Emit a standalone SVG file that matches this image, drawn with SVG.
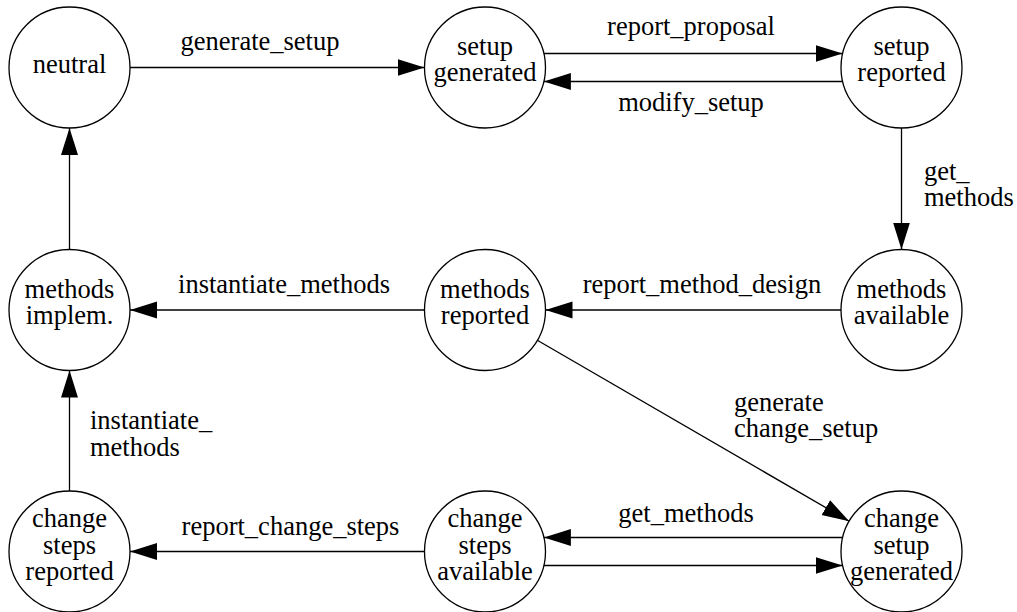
<svg xmlns="http://www.w3.org/2000/svg" width="1017" height="612" viewBox="0 0 1017 612" font-family="'Liberation Serif', Tinos, 'Times New Roman', Times, 'DejaVu Serif', serif">
<style>
.node circle{fill:#fff;stroke:#000;stroke-width:1.3}
text{font-family:'Liberation Serif', Tinos, 'Times New Roman', Times, 'DejaVu Serif', serif;font-size:26.5px;fill:#000}
.n text{text-anchor:middle}
.c{text-anchor:middle}
#edges line{stroke:#000;stroke-width:1.3;marker-end:url(#ah)}
</style>
<defs>
<marker id="ah" markerUnits="userSpaceOnUse" markerWidth="28" markerHeight="18" refX="27" refY="8.5" orient="auto" viewBox="0 0 28 17">
<path d="M0,0 L27,8.5 L0,17 z" fill="#000"/>
</marker>
</defs>
<rect width="1017" height="612" fill="#fff"/>
<g id="edges">
<line x1="130" y1="67.5" x2="424.5" y2="67.5"/>
<line x1="543.9" y1="53.5" x2="842.6" y2="53.5"/>
<line x1="842.6" y1="81.5" x2="543.9" y2="81.5"/>
<line x1="901.5" y1="128" x2="901.5" y2="249.5"/>
<line x1="841" y1="310" x2="545.5" y2="310"/>
<line x1="424.5" y1="310" x2="130" y2="310"/>
<line x1="69.5" y1="249.5" x2="69.5" y2="128"/>
<line x1="537.3" y1="340.3" x2="849.2" y2="521.2"/>
<line x1="842.6" y1="537.5" x2="543.9" y2="537.5"/>
<line x1="543.9" y1="565.5" x2="842.6" y2="565.5"/>
<line x1="424.5" y1="551.5" x2="130" y2="551.5"/>
<line x1="69.5" y1="491" x2="69.5" y2="370.5"/>
<text class="c" x="260" y="50">generate_setup</text>
<text class="c" x="691" y="35">report_proposal</text>
<text class="c" x="691" y="111">modify_setup</text>
<text x="924" y="180">get_</text>
<text x="924" y="205.5">methods</text>
<text class="c" x="702" y="293">report_method_design</text>
<text class="c" x="284" y="293">instantiate_methods</text>
<text x="90" y="429">instantiate_</text>
<text x="90" y="455.5">methods</text>
<text x="734" y="410.5">generate</text>
<text x="734" y="436.5">change_setup</text>
<text class="c" x="686" y="522">get_methods</text>
<text class="c" x="290.5" y="534.5">report_change_steps</text>
</g>
<g id="neutral" class="node n"><circle cx="69.5" cy="67.5" r="60.5"/><text x="69.5" y="73">neutral</text></g>
<g id="setup_generated" class="node n"><circle cx="485" cy="67.5" r="60.5"/><text x="485" y="55">setup</text><text x="485" y="81">generated</text></g>
<g id="setup_reported" class="node n"><circle cx="901.5" cy="67.5" r="60.5"/><text x="901.5" y="55">setup</text><text x="901.5" y="81">reported</text></g>
<g id="methods_available" class="node n"><circle cx="901.5" cy="310" r="60.5"/><text x="901.5" y="297.5">methods</text><text x="901.5" y="323.5">available</text></g>
<g id="methods_reported" class="node n"><circle cx="485" cy="310" r="60.5"/><text x="485" y="297.5">methods</text><text x="485" y="323.5">reported</text></g>
<g id="methods_implem" class="node n"><circle cx="69.5" cy="310" r="60.5"/><text x="69.5" y="297.5">methods</text><text x="69.5" y="323.5">implem.</text></g>
<g id="change_steps_reported" class="node n"><circle cx="69.5" cy="551.5" r="60.5"/><text x="69.5" y="527">change</text><text x="69.5" y="553.5">steps</text><text x="69.5" y="580">reported</text></g>
<g id="change_steps_available" class="node n"><circle cx="485" cy="551.5" r="60.5"/><text x="485" y="527">change</text><text x="485" y="553.5">steps</text><text x="485" y="580">available</text></g>
<g id="change_setup_generated" class="node n"><circle cx="901.5" cy="551.5" r="60.5"/><text x="901.5" y="527">change</text><text x="901.5" y="553.5">setup</text><text x="901.5" y="580">generated</text></g>
</svg>
